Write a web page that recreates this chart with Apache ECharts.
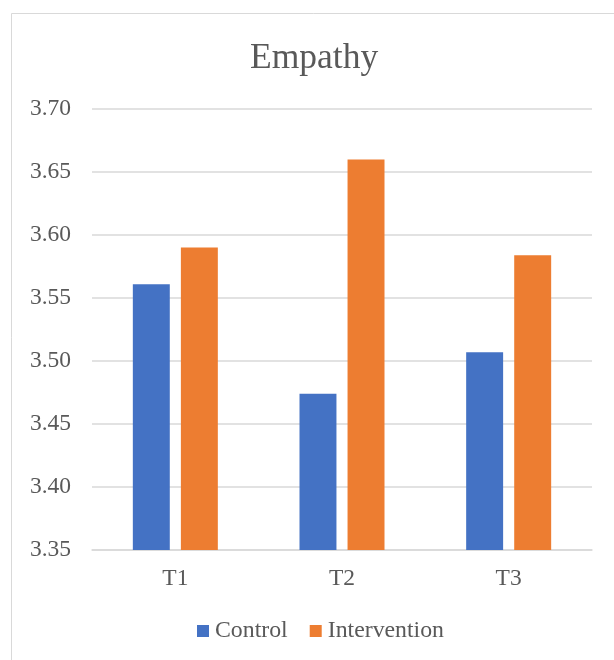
<!DOCTYPE html>
<html>
<head>
<meta charset="utf-8">
<script src="https://cdn.jsdelivr.net/npm/echarts@6/dist/echarts.min.js"></script>
<style>
html,body{margin:0;padding:0;background:#fff;}
#chart{width:614px;height:660px;}
</style>
</head>
<body>
<div id="chart"></div>
<script>
const titleText = 'Empathy';
const categories = ['T1', 'T2', 'T3'];
const controlValues = [3.561, 3.474, 3.507];
const interventionValues = [3.590, 3.660, 3.584];
const seriesNames = ['Control', 'Intervention'];
const yMin = 3.35, yMax = 3.70, yStep = 0.05;

const font = '"Liberation Serif", "Times New Roman", serif';
const txt = '#595959';
const chart = echarts.init(document.getElementById('chart'), null, {renderer: 'canvas'});
chart.setOption({
  backgroundColor: '#fff',
  animation: false,
  graphic: [{
    type: 'rect', shape: {x: 11.5, y: 13.5, width: 700, height: 700},
    style: {fill: 'none', stroke: '#D9D9D9', lineWidth: 1}, silent: true
  }],
  title: {
    text: titleText, left: 245, top: 36,
    textStyle: {fontFamily: font, fontSize: 35.5, fontWeight: 'normal', color: txt}
  },
  legend: {
    data: seriesNames, left: 192, top: 614, itemWidth: 12, itemHeight: 12, itemGap: 22,
    icon: 'rect',
    textStyle: {fontFamily: font, fontSize: 23.8, color: txt, padding: [0,0,0,1]}
  },
  grid: {left: 92, right: 22, top: 109, bottom: 110, containLabel: false},
  xAxis: {
    type: 'category', data: categories,
    axisLine: {show: true, lineStyle: {color: '#D9D9D9', width: 1.5}},
    axisTick: {show: false},
    axisLabel: {fontFamily: font, fontSize: 23.5, color: txt, margin: 17}
  },
  yAxis: {
    type: 'value', min: yMin, max: yMax, interval: yStep,
    axisLine: {show: false}, axisTick: {show: false},
    splitLine: {lineStyle: {color: '#D9D9D9', width: 1.5}},
    axisLabel: {fontFamily: font, fontSize: 23.5, color: txt, margin: 21,
      formatter: v => v.toFixed(2)}
  },
  series: [
    {name: seriesNames[0], type: 'bar', data: controlValues, barGap: '30%', barCategoryGap: '49%',
     itemStyle: {color: '#4472C4'}},
    {name: seriesNames[1], type: 'bar', data: interventionValues,
     itemStyle: {color: '#ED7D31'}}
  ]
});
</script>
</body>
</html>
